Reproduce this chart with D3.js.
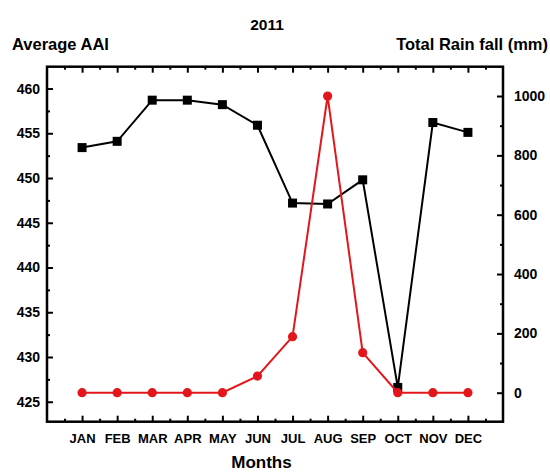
<!DOCTYPE html>
<html>
<head>
<meta charset="utf-8">
<script src="https://cdn.jsdelivr.net/npm/d3@7"></script>
<style>
  html, body { margin: 0; padding: 0; background: #fff; }
  svg { display: block; font-family: "Liberation Sans", Arial, sans-serif; font-weight: bold; }
</style>
</head>
<body>
<svg id="chart" width="550" height="472"></svg>
<script>
const months = ["JAN","FEB","MAR","APR","MAY","JUN","JUL","AUG","SEP","OCT","NOV","DEC"];
const aai = [453.4, 454.1, 458.7, 458.7, 458.2, 455.9, 447.2, 447.1, 449.8, 426.6, 456.2, 455.1];
const rain = [0, 0, 0, 0, 0, 56, 189, 1000, 135, 0, 0, 0];
const leftTicks = [425, 430, 435, 440, 445, 450, 455, 460];
const leftMinor = [427.5, 432.5, 437.5, 442.5, 447.5, 452.5, 457.5];
const rightTicks = [0, 200, 400, 600, 800, 1000];
const rightMinor = [100, 300, 500, 700, 900];

const svg = d3.select("#chart");
const L = 47, R = 503, T = 66.7, B = 421.7;

const x = d3.scaleLinear().domain([0, 13]).range([L, R]);
const yL = d3.scaleLinear().domain([422.77, 462.44]).range([B, T]);
const yR = d3.scaleLinear().domain([-97.7, 1098.8]).range([B, T]);

const monthIdx = months.map((m, i) => i + 1);
const monthMinor = d3.range(0, 13).map(i => i + 0.5);

function styleAxis(g) {
  g.select(".domain").remove();
  g.selectAll(".tick line").attr("stroke", "#000").attr("stroke-width", 2);
  g.selectAll(".tick text").attr("fill", "#000").style("font-size", "14px").style("font-weight", "bold")
    .style("font-family", '"Liberation Sans", Arial, sans-serif');
}

// bottom axis
svg.append("g").attr("transform", `translate(0,${B})`)
  .call(d3.axisBottom(x).tickValues(monthIdx).tickSize(-6).tickPadding(12)
    .tickFormat(d => months[d - 1]))
  .call(styleAxis)
  .call(g => g.selectAll(".tick text").style("font-size", "13px"));
svg.append("g").attr("transform", `translate(0,${B})`)
  .call(d3.axisBottom(x).tickValues(monthMinor).tickSize(-3).tickFormat(""))
  .call(styleAxis);
// top axis
svg.append("g").attr("transform", `translate(0,${T})`)
  .call(d3.axisTop(x).tickValues(monthIdx).tickSize(-6).tickFormat(""))
  .call(styleAxis);
svg.append("g").attr("transform", `translate(0,${T})`)
  .call(d3.axisTop(x).tickValues(monthMinor).tickSize(-3).tickFormat(""))
  .call(styleAxis);
// left axis
svg.append("g").attr("transform", `translate(${L},0)`)
  .call(d3.axisLeft(yL).tickValues(leftTicks).tickSize(-6).tickPadding(7).tickFormat(d3.format("d")))
  .call(styleAxis);
svg.append("g").attr("transform", `translate(${L},0)`)
  .call(d3.axisLeft(yL).tickValues(leftMinor).tickSize(-3).tickFormat(""))
  .call(styleAxis);
// right axis
svg.append("g").attr("transform", `translate(${R},0)`)
  .call(d3.axisRight(yR).tickValues(rightTicks).tickSize(-6).tickPadding(11).tickFormat(d3.format("d")))
  .call(styleAxis);
svg.append("g").attr("transform", `translate(${R},0)`)
  .call(d3.axisRight(yR).tickValues(rightMinor).tickSize(-3).tickFormat(""))
  .call(styleAxis);

// frame
svg.append("rect").attr("x", L).attr("y", T).attr("width", R - L).attr("height", B - T)
  .attr("fill", "none").attr("stroke", "#000").attr("stroke-width", 2.5);

// AAI series
const lineL = d3.line().x((d, i) => x(i + 1)).y(d => yL(d));
svg.append("path").datum(aai).attr("d", lineL).attr("fill", "none")
  .attr("stroke", "#000").attr("stroke-width", 2);
svg.append("g").selectAll("rect").data(aai).join("rect")
  .attr("x", (d, i) => x(i + 1) - 4.5).attr("y", d => yL(d) - 4.5)
  .attr("width", 9).attr("height", 9).attr("fill", "#000");

// Rain series
const red = "#e3161b";
const lineR = d3.line().x((d, i) => x(i + 1)).y(d => yR(d));
svg.append("path").datum(rain).attr("d", lineR).attr("fill", "none")
  .attr("stroke", red).attr("stroke-width", 2);
svg.append("g").selectAll("circle").data(rain).join("circle")
  .attr("cx", (d, i) => x(i + 1)).attr("cy", d => yR(d)).attr("r", 4.6).attr("fill", red);

// texts
svg.append("text").attr("x", 267).attr("y", 30).attr("text-anchor", "middle")
  .style("font-size", "15.5px").text("2011");
svg.append("text").attr("x", 12).attr("y", 50).attr("text-anchor", "start")
  .style("font-size", "16.5px").text("Average AAI");
svg.append("text").attr("x", 548).attr("y", 50).attr("text-anchor", "end")
  .style("font-size", "16.5px").text("Total Rain fall (mm)");
svg.append("text").attr("x", 261.5).attr("y", 468).attr("text-anchor", "middle")
  .style("font-size", "17px").text("Months");
</script>
</body>
</html>
